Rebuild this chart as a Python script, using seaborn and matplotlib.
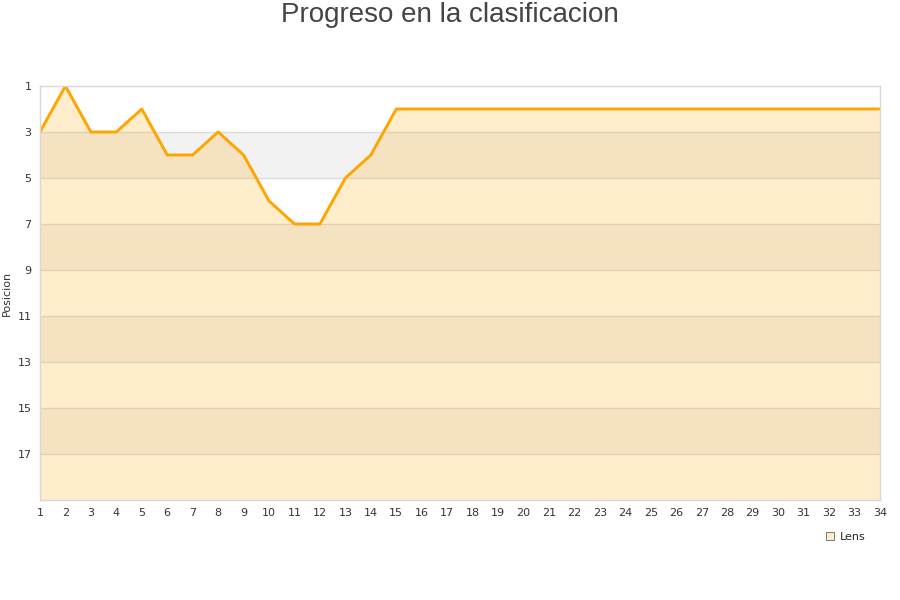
import seaborn as sns
import matplotlib.pyplot as plt
import pandas as pd

# Jornadas y posicion en la clasificacion
JORNADAS = list(range(1, 35))
POSICION = [3, 1, 3, 3, 2, 4, 4, 3, 4, 6, 7, 7, 5, 4,
            2, 2, 2, 2, 2, 2, 2, 2, 2, 2, 2, 2, 2, 2, 2, 2, 2, 2, 2, 2]
EQUIPO = 'Lens'
Y_TICKS = [1, 3, 5, 7, 9, 11, 13, 15, 17]

df = pd.DataFrame({'Jornada': JORNADAS, 'Posicion': POSICION})

sns.set_style('white')
plt.rcParams['font.family'] = ['DejaVu Sans']
fig = plt.figure(figsize=(9, 6), dpi=100)
ax = fig.add_axes([0.0444, 0.1667, 0.9333, 0.69])

# Bandas alternas de fondo
for i, y in enumerate(range(1, 19, 2)):
    ax.axhspan(y, y + 2, color='#f2f2f2' if i % 2 else 'white', lw=0, zorder=0)
for y in Y_TICKS[1:]:
    ax.axhline(y, color='#dcdcdc', lw=1, zorder=0.5)

ax.fill_between(df['Jornada'], df['Posicion'], 19, color='#ffa500', alpha=0.2, lw=0, zorder=1)
sns.lineplot(data=df, x='Jornada', y='Posicion', ax=ax, color='#ffa500', lw=2.1, zorder=2)

ax.set_xlim(1, 34)
ax.set_ylim(19, 1)
ax.set_xticks(JORNADAS)
ax.set_yticks(Y_TICKS)
ax.tick_params(axis='both', labelsize=8, colors='#333333', length=0, pad=6)
ax.set_xlabel('')
ax.set_ylabel('Posicion', fontsize=8, color='#333333')
ax.yaxis.set_label_coords(-0.033, 0.5)
for s in ax.spines.values():
    s.set_color('#d8d8d8')
    s.set_linewidth(1)

fig.text(0.5, 0.997, 'Progreso en la clasificacion', ha='center', va='top',
         fontsize=20, color='#444444', family='Liberation Sans')

# Leyenda
fig.legend(handles=[plt.Line2D([], [], marker='s', ls='', markersize=6,
                               markerfacecolor='#ffecc8', markeredgecolor='#666666',
                               markeredgewidth=0.6)],
           labels=[EQUIPO], loc='center left', bbox_to_anchor=(0.905, 0.105),
           frameon=False, fontsize=8, handletextpad=0.4, handlelength=1)

fig.savefig('out.png', dpi=100)
